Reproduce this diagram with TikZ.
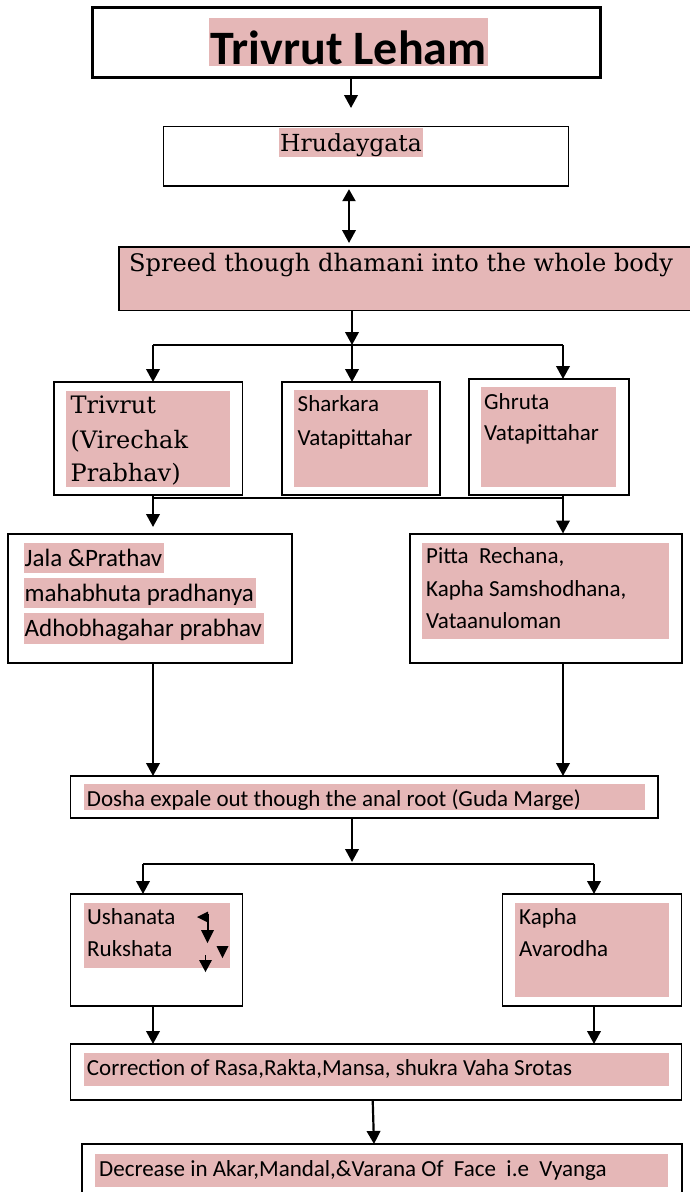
\documentclass[tikz,border=0pt]{standalone}
\usepackage{fontspec}
\setmainfont{Carlito}
\newfontfamily\serifc{DejaVu Serif}
\usetikzlibrary{arrows.meta}
\definecolor{pinkc}{RGB}{229,183,183}
\tikzset{
  box/.style={draw, line width=1.5pt, anchor=north west, inner sep=0, outer sep=0},
  arr/.style={line width=2.2pt, -{Triangle[width=13.5pt,length=13pt]}},
  darr/.style={line width=2.2pt, {Triangle[width=13pt,length=12pt]}-{Triangle[width=13.5pt,length=13pt]}},
  ln/.style={line width=2pt},
  txt/.style={anchor=base west, inner sep=0, font=\fontsize{23}{27}\selectfont},
  txtj/.style={anchor=base west, inner sep=0, font=\fontsize{25}{29}\selectfont},
  stxt/.style={anchor=base west, inner sep=0, font=\serifc\fontsize{23.5}{28}\selectfont},
  hl/.style={fill=pinkc}
}
\begin{document}
\begin{tikzpicture}[x=1pt,y=-1pt]
\useasboundingbox (0,0) rectangle (690,1192);
% ---------- boxes ----------
\node[box, line width=3pt, minimum width=508, minimum height=70] (title) at (92.5,7) {};
\node[box, minimum width=405, minimum height=59.5] (hruda) at (163.7,126.7) {};
\node[box, fill=pinkc, minimum width=590, minimum height=63.5] (spreed) at (119,247) {};
\node[box, minimum width=188.5, minimum height=113] (triv) at (54,382) {};
\node[box, minimum width=158, minimum height=113] (shark) at (282,382) {};
\node[box, minimum width=160, minimum height=116] (ghruta) at (469,379) {};
\node[box, minimum width=284, minimum height=129] (jala) at (8,534) {};
\node[box, minimum width=272, minimum height=129] (pitta) at (410,534) {};
\node[box, minimum width=587.6, minimum height=42] (dosha) at (70.4,776) {};
\node[box, minimum width=172, minimum height=112] (usha) at (70.4,894) {};
\node[box, minimum width=179, minimum height=112] (kapha) at (502.6,894) {};
\node[box, minimum width=611.2, minimum height=56] (corr) at (70.4,1044) {};
\node[box, minimum width=600, minimum height=70] (decr) at (82,1144) {};
% ---------- highlights ----------
\fill[hl] (209,18) rectangle (488,66);
\fill[hl] (279,128) rectangle (422.5,156.7);
\fill[hl] (66,391) rectangle (230,487);
\fill[hl] (294,390) rectangle (428,487);
\fill[hl] (481,387) rectangle (616,487);
\fill[hl] (24,543) rectangle (164,573);
\fill[hl] (24,578) rectangle (256,608);
\fill[hl] (24,613) rectangle (264,644);
\fill[hl] (422,543) rectangle (669,639);
\fill[hl] (84,784) rectangle (645,810);
\fill[hl] (84,903) rectangle (230,968);
\fill[hl] (515,903) rectangle (669,997);
\fill[hl] (84,1053) rectangle (669,1086);
\fill[hl] (95.3,1154) rectangle (668.4,1187);
% ---------- texts ----------
\node[anchor=base, inner sep=0, font=\bfseries\fontsize{48}{50}\selectfont] (ttitle) at (348.5,64) {Trivrut Leham};
\node[stxt] (thruda) at (280,151.7) {Hrudaygata};
\node[stxt, font=\serifc\fontsize{24.1}{28}\selectfont] (tspreed) at (129,271.7) {Spreed though dhamani into the whole body};
\node[stxt, font=\serifc\fontsize{24}{28}\selectfont] (ttriv1) at (70.5,413) {Trivrut};
\node[stxt, font=\serifc\fontsize{24}{28}\selectfont] (ttriv2) at (70.5,448) {(Virechak};
\node[stxt, font=\serifc\fontsize{24}{28}\selectfont] (ttriv3) at (70.5,481.7) {Prabhav)};
\node[txt] (tshark1) at (297.5,411.7) {Sharkara};
\node[txt] (tshark2) at (297.5,445) {Vatapittahar};
\node[txt] (tghr1) at (484,409) {Ghruta};
\node[txt] (tghr2) at (484,440.7) {Vatapittahar};
\node[txtj] (tjala1) at (24.5,566) {Jala \&Prathav};
\node[txtj] (tjala2) at (24.5,601.7) {mahabhuta pradhanya};
\node[txtj] (tjala3) at (24.5,636.7) {Adhobhagahar prabhav};
\node[txt] (tpitta1) at (426,563.3) {Pitta\ \ Rechana,};
\node[txt] (tpitta2) at (426,596.7) {Kapha Samshodhana,};
\node[txt] (tpitta3) at (426,628.3) {Vataanuloman};
\node[txt] (tdosha) at (86.7,806) {Dosha expale out though the anal root (Guda Marge)};
\node[txt] (tusha1) at (87,924) {Ushanata};
\node[txt] (tusha2) at (87,956.7) {Rukshata};
\node[txt] (tkapha1) at (519,924) {Kapha};
\node[txt] (tkapha2) at (519,956.7) {Avarodha};
\node[txt] (tcorr) at (86.7,1075) {Correction of Rasa,Rakta,Mansa, shukra Vaha Srotas};
\node[txt] (tdecr) at (99,1176) {Decrease in Akar,Mandal,\&Varana Of\ \ Face\ \ i.e\ \ Vyanga};
% ---------- stray arrowheads in Ushanata box ----------
\fill (197,917) -- (208,911.5) -- (208,922.5) -- cycle;
\draw[line width=2pt] (207.5,914) -- (207.5,932);
\fill (201,930) -- (214,930) -- (207.5,943) -- cycle;
\fill (216.5,946) -- (228.5,946) -- (222.5,958) -- cycle;
\draw[line width=1.5pt] (205.5,955) -- (205.5,960);
\fill (199,960) -- (212,960) -- (205.5,972) -- cycle;
% ---------- connector coordinates ----------
\coordinate (p1) at (351,108);
\coordinate (p2) at (349,243);
\coordinate (j1) at (352,345);
\coordinate (j1l) at (153,345);
\coordinate (j1r) at (563,345);
\coordinate (j2l) at (153,498);
\coordinate (j2r) at (563,498);
\coordinate (e2l) at (153,527);
\coordinate (e2r) at (563,533.5);
\coordinate (j3) at (352,862);
\coordinate (j3l) at (143,864);
\coordinate (j3r) at (594,864);
\coordinate (c153) at (153,0);
\coordinate (c594) at (594,0);
\coordinate (c373) at (372.7,0);
\coordinate (c374) at (374,0);
% ---------- connectors ----------
\draw[arr] (title.south -| p1) -- (p1);
\draw[darr, shorten <=3pt] (hruda.south -| p2) -- (p2);
\draw[arr] (spreed.south -| j1) -- (j1);
\draw[ln] (j1l) -- (j1r);
\draw[arr] (j1l) -- (triv.north -| j1l);
\draw[arr] (j1) -- (shark.north -| j1);
\draw[arr] (j1r) -- (ghruta.north -| j1r);
\draw[ln] (triv.south -| j2l) -- (j2l) -- (j2r) -- (ghruta.south -| j2r);
\draw[arr] (j2l) -- (e2l);
\draw[arr] (j2r) -- (e2r);
\draw[arr] (jala.south -| j2l) -- (dosha.north -| j2l);
\draw[arr] (pitta.south -| j2r) -- (dosha.north -| j2r);
\draw[arr] (dosha.south -| j3) -- (j3);
\draw[ln] (j3l) -- (j3r);
\draw[arr] (j3l) -- (usha.north -| j3l);
\draw[arr] (j3r) -- (kapha.north -| j3r);
\draw[arr] (usha.south -| c153) -- (corr.north -| c153);
\draw[arr] (kapha.south -| c594) -- (corr.north -| c594);
\draw[arr] (corr.south -| c373) -- (decr.north -| c374);
\end{tikzpicture}
\end{document}
